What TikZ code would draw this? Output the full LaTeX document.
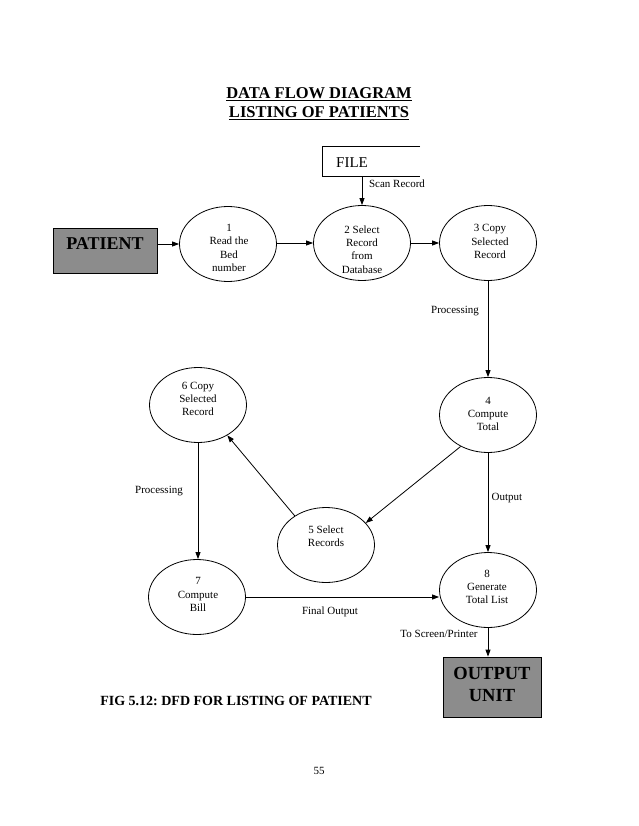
\documentclass[tikz,border=0pt]{standalone}
\usepackage{fontspec}
\setmainfont{Liberation Serif}
\usetikzlibrary{shapes.geometric,arrows.meta}
\definecolor{boxgray}{RGB}{140,140,140}
\frenchspacing
\begin{document}
\begin{tikzpicture}[x=1pt,y=-1pt,
  proc/.style={draw,ellipse,minimum width=97pt,minimum height=75pt,inner sep=0pt,line width=0.8pt},
  ptext/.style={align=center,font=\fontsize{11}{13.3}\selectfont,inner sep=0pt},
  lbl/.style={font=\fontsize{11}{13}\selectfont,inner sep=0pt},
  extbox/.style={draw,fill=boxgray,line width=0.8pt,inner sep=0pt},
  exttext/.style={align=center,inner sep=0pt,font=\bfseries\fontsize{18.5}{22}\selectfont},
  flow/.style={line width=0.8pt,-{Triangle[length=7pt,width=5pt]}},
  plainline/.style={line width=0.8pt}]
\useasboundingbox (0,0) rectangle (638,826);
\fill[white] (0,0) rectangle (638,826);

% title
\node[anchor=base,inner sep=0pt,font=\bfseries\fontsize{16.5}{19}\selectfont] (title1) at (319,98.5) {\underline{DATA FLOW DIAGRAM}};
\node[anchor=base,inner sep=0pt,font=\bfseries\fontsize{16.5}{19}\selectfont] (title2) at (319,117.5) {\underline{LISTING OF PATIENTS}};

% file store
\node[minimum width=97pt,minimum height=29pt,inner sep=0pt] (file) at (371.5,161.5) {};
\draw[plainline] (file.north east) -- (file.north west) -- (file.south west) -- (file.south east);
\node[inner sep=0pt,font=\fontsize{15}{17}\selectfont] (filelbl) at (352,163) {FILE};

% external entities
\node[extbox,minimum width=104pt,minimum height=45pt] (patient) at (105,250.5) {};
\node[exttext,font=\bfseries\fontsize{18}{21}\selectfont] (patientlbl) at (105,243.5) {PATIENT};
\node[extbox,minimum width=98pt,minimum height=60pt] (output) at (492,687) {};
\node[exttext] (outputlbl) at (492,684) {OUTPUT\\UNIT};

% processes
\node[proc] (p1) at (228,244) {};
\node[ptext] (t1) at (229,248) {1\\Read the\\Bed\\number};
\node[proc] (p2) at (362,243) {};
\node[ptext] (t2) at (362,249.5) {2 Select\\Record\\from\\Database};
\node[proc] (p3) at (488,243) {};
\node[ptext] (t3) at (490,241.5) {3 Copy\\Selected\\Record};
\node[proc] (p4) at (488,415) {};
\node[ptext] (t4) at (488,414) {4\\Compute\\Total};
\node[proc] (p5) at (326,545) {};
\node[ptext] (t5) at (326,536) {5 Select\\Records};
\node[proc] (p6) at (198,405) {};
\node[ptext] (t6) at (198,399) {6 Copy\\Selected\\Record};
\node[proc] (p7) at (197,597) {};
\node[ptext] (t7) at (198,594.5) {7\\Compute\\Bill};
\node[proc] (p8) at (488,590) {};
\node[ptext] (t8) at (487,587) {8\\Generate\\Total List};

% flows
\draw[flow] (file.south -| p2.north) -- (p2.north);
\draw[flow] (patient.east |- p1.west) -- (p1.west);
\draw[flow] (p1.east |- p2.west) -- (p2.west);
\draw[flow] (p2.east) -- (p3.west);
\draw[flow] (p3.south) -- (p4.north);
\draw[flow] (p4.229) -- (p5.29);
\draw[flow] (p5.137) -- (p6.-46);
\draw[flow] (p6.south) -- (p6.south |- p7.north);
\draw[flow] (p4.south) -- (p8.north);
\draw[flow] (p7.east) -- (p7.east -| p8.west);
\draw[flow] (p8.south) -- (p8.south |- output.north);

% flow labels
\node[lbl] (l1) at (397,184) {Scan Record};
\node[lbl] (l2) at (455,311) {Processing};
\node[lbl] (l3) at (159,491) {Processing};
\node[lbl] (l4) at (507,498) {Output};
\node[lbl] (l5) at (330,612) {Final Output};
\node[lbl] (l6) at (439,634) {To Screen/Printer};

% caption and page number
\node[inner sep=0pt,font=\bfseries\fontsize{14}{16}\selectfont] (caption) at (236,701) {FIG 5.12: DFD FOR LISTING OF PATIENT};
\node[inner sep=0pt,font=\fontsize{11}{13}\selectfont] (pagenum) at (319,771) {55};
\end{tikzpicture}
\end{document}
